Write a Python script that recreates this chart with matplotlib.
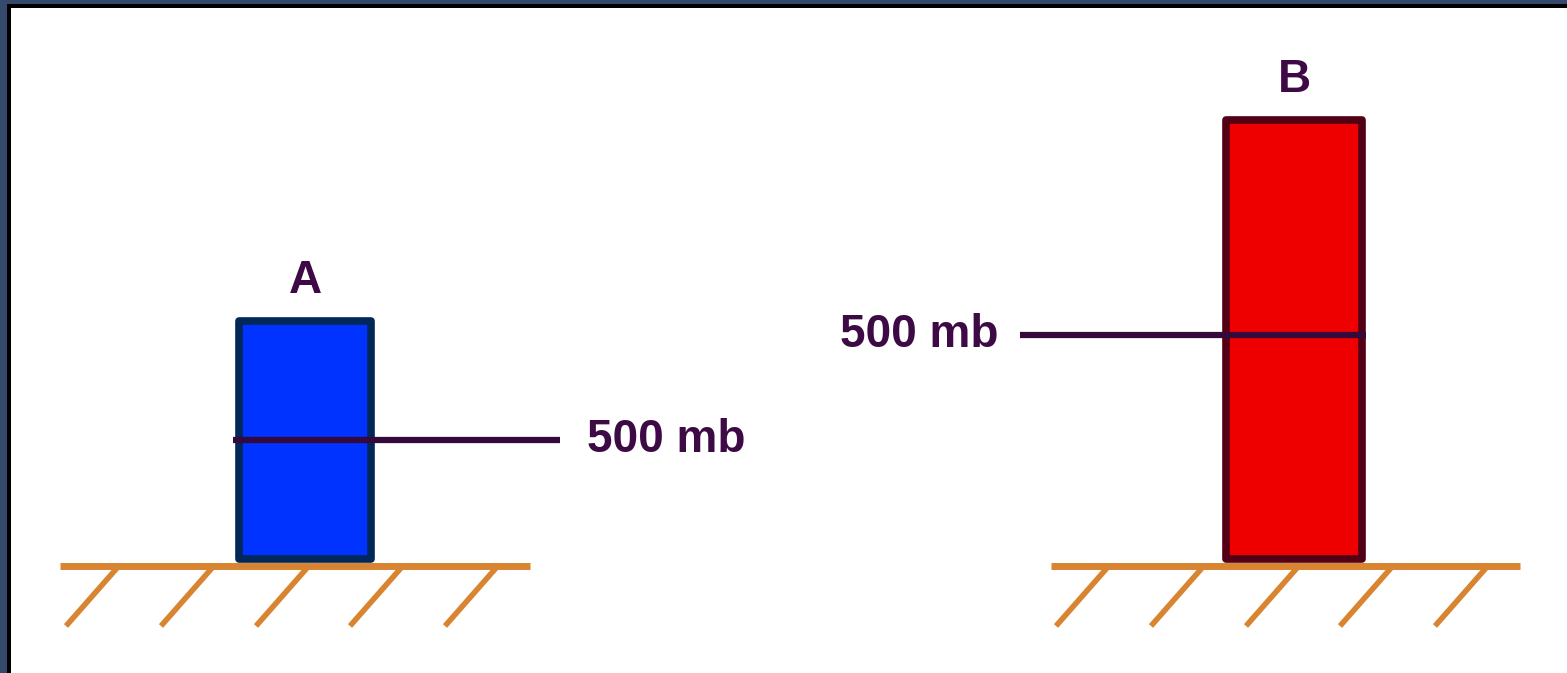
import matplotlib.pyplot as plt
import matplotlib.patches as patches

# Diagram layout in pixel units (y grows downward)
labels = ['A', 'B']
col_left = [239, 1226]
col_right = [371, 1362]
col_top = [321, 120]
ground_y = 559
level_500 = [440, 335]
level_x = [(233, 560), (1020, 1366)]
level_text_x = [587, 840]
level_text = '500 mb'
ground_x = [(60, 530), (1051, 1520)]
hatch_top = [[117, 212, 307, 401, 496], [1107, 1202, 1297, 1391, 1486]]

fill_colors = ['#0033ff', '#ee0000']
edge_colors = ['#02285a', '#520016']
ground_color = '#d98430'
line_color = '#36093b'
text_color = '#3d0a45'

W, H = 1567, 673
fig = plt.figure(figsize=(W / 100, H / 100), dpi=100)
ax = fig.add_axes([0, 0, 1, 1])
ax.set_xlim(0, W)
ax.set_ylim(H, 0)
ax.axis('off')

# frame on top and left edge
ax.add_patch(patches.Rectangle((0, 0), W, 3.5, facecolor='#34496b', edgecolor='none'))
ax.add_patch(patches.Rectangle((0, 3.5), W, 4, facecolor='black', edgecolor='none'))
ax.add_patch(patches.Rectangle((0, 0), 7, H, facecolor='#34496b', edgecolor='none'))
ax.add_patch(patches.Rectangle((7, 3.5), 3.5, H, facecolor='black', edgecolor='none'))

for i in range(2):
    # ground with hatching
    x0, x1 = ground_x[i]
    ax.plot([x0, x1], [566, 566], color=ground_color, lw=5, solid_capstyle='butt', zorder=2)
    for hx in hatch_top[i]:
        ax.plot([hx, hx - 51], [568, 626], color=ground_color, lw=4,
                solid_capstyle='butt', zorder=2)

    # air column
    col = patches.Rectangle((col_left[i], col_top[i]), col_right[i] - col_left[i],
                            ground_y - col_top[i], facecolor=fill_colors[i],
                            edgecolor=edge_colors[i], lw=5.5, joinstyle='round', zorder=3)
    ax.add_patch(col)

    # 500 mb level
    lx0, lx1 = level_x[i]
    ax.plot([lx0, lx1], [level_500[i], level_500[i]], color=line_color, lw=4.5,
            solid_capstyle='butt', zorder=4)
    ax.text(level_text_x[i], level_500[i], level_text, ha='left', va='center',
            fontsize=33, fontweight='bold', family='Liberation Sans', color=text_color)

    # column label
    ax.text((col_left[i] + col_right[i]) / 2, col_top[i] - 40, labels[i], ha='center',
            va='center', fontsize=33, fontweight='bold', family='Liberation Sans',
            color=text_color)

fig.savefig('out.png', dpi=100)
